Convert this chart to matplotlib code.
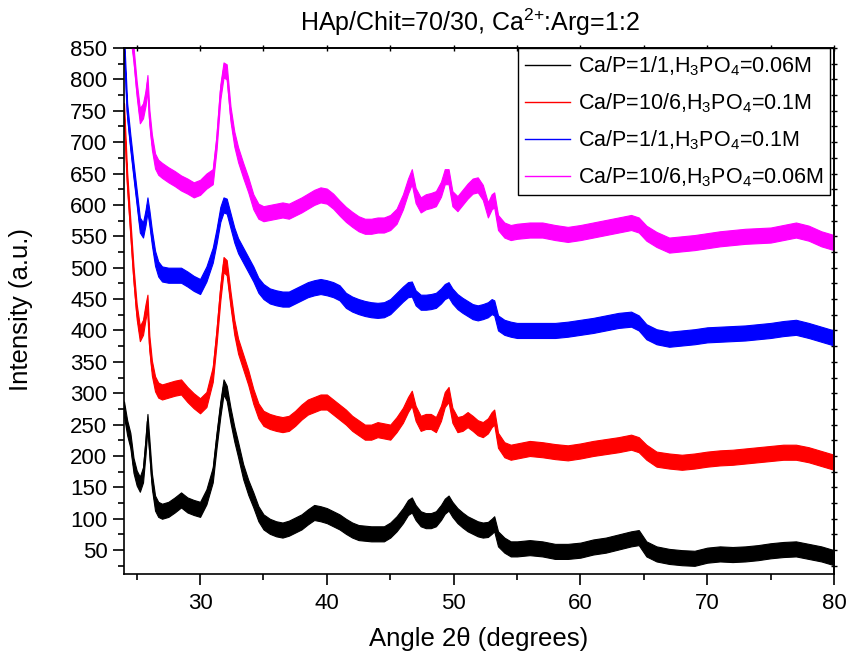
import numpy as np
import matplotlib
matplotlib.use('Agg')
import matplotlib.pyplot as plt
from matplotlib.ticker import MultipleLocator, NullFormatter

plt.rcParams['font.family'] = ['Liberation Sans', 'DejaVu Sans']
plt.rcParams['mathtext.fontset'] = 'custom'
plt.rcParams['mathtext.rm'] = 'Liberation Sans'
plt.rcParams['mathtext.default'] = 'regular'

# Угол 2θ, градусы
angle = [24.0, 24.25, 24.5, 24.75, 25.0, 25.25, 25.5, 25.7, 25.85, 26.0,
         26.2, 26.45, 26.7, 27.0, 27.5, 28.0, 28.5, 29.0, 29.5, 30.0,
         30.5, 31.0, 31.3, 31.6, 31.85, 32.1, 32.4, 32.7, 33.0, 33.4,
         33.8, 34.2, 34.6, 35.0, 35.5, 36.0, 36.5, 37.0, 37.5, 38.0,
         38.5, 39.0, 39.5, 40.0, 40.5, 41.0, 41.5, 42.0, 42.5, 43.0,
         43.5, 44.0, 44.5, 45.0, 45.5, 46.0, 46.4, 46.7, 47.0, 47.4,
         47.8, 48.2, 48.6, 49.0, 49.3, 49.6, 49.9, 50.3, 50.7, 51.1,
         51.5, 51.9, 52.3, 52.7, 53.0, 53.2, 53.5, 54.0, 54.5, 55.0,
         56.0, 57.0, 58.0, 59.0, 60.0, 61.0, 62.0, 63.0, 64.0, 64.6,
         65.2, 66.0, 67.0, 68.0, 69.0, 70.0, 71.0, 72.0, 73.0, 74.0,
         75.0, 76.0, 77.0, 78.0, 79.0, 80.0]

# Ca/P=1/1, H3PO4=0.06M
i_black = [275, 245, 225, 185, 165, 155, 170, 215, 255, 215,
           160, 125, 115, 112, 115, 122, 130, 122, 118, 115,
           135, 170, 225, 275, 310, 300, 265, 235, 210, 175,
           150, 130, 108, 95, 88, 84, 82, 85, 90, 95,
           103, 110, 108, 105, 100, 95, 88, 82, 78, 77,
           76, 76, 76, 82, 92, 105, 118, 122, 110, 100,
           97, 97, 100, 110, 120, 125, 115, 105, 98, 92,
           88, 84, 82, 83, 88, 92, 68, 58, 52, 52,
           54, 52, 48, 48, 50, 55, 58, 63, 68, 70,
           52, 44, 40, 38, 37, 42, 44, 43, 44, 46,
           49, 51, 52, 48, 44, 38]

# Ca/P=10/6, H3PO4=0.1M
i_red = [750, 640, 565, 490, 430, 395, 405, 430, 445, 380,
         340, 315, 305, 302, 305, 308, 310, 298, 288, 280,
         290, 330, 390, 460, 505, 500, 450, 405, 375, 350,
         325, 295, 272, 260, 255, 252, 250, 252, 260, 270,
         278, 282, 286, 286, 278, 270, 262, 252, 245, 238,
         238, 242, 240, 238, 250, 265, 282, 292, 268, 252,
         255, 255, 250, 268, 290, 298, 265, 250, 252, 258,
         252, 245, 242, 248, 258, 262, 225, 210, 206, 208,
         212, 210, 207, 205, 208, 212, 215, 218, 222, 218,
         206, 195, 192, 190, 192, 195, 197, 198, 200, 202,
         204, 206, 206, 202, 196, 190]

# Ca/P=1/1, H3PO4=0.1M
i_blue = [860, 750, 700, 655, 612, 568, 560, 580, 600, 580,
          548, 515, 498, 490, 488, 488, 488, 482, 475, 470,
          490, 520, 550, 585, 600, 598, 575, 552, 535, 520,
          505, 490, 472, 462, 455, 452, 450, 450, 455, 460,
          465, 468, 470, 468, 465, 460, 448, 442, 438, 435,
          433, 432, 433, 438, 448, 458, 465, 466, 452, 445,
          445, 446, 448, 455, 462, 465, 455, 446, 440, 435,
          430, 428, 430, 433, 438, 436, 412, 405, 402, 400,
          400, 400, 400, 402, 405, 408, 412, 416, 418, 412,
          398, 390, 386, 388, 390, 393, 394, 395, 396, 398,
          400, 403, 405, 400, 394, 388]

# Ca/P=10/6, H3PO4=0.06M
i_magenta = [np.nan, np.nan, 880, 840, 785, 742, 750, 770, 795, 740,
             700, 670, 660, 655, 648, 642, 635, 630, 624, 628,
             638, 645, 700, 780, 815, 812, 745, 705, 680, 655,
             632, 605, 590, 586, 588, 590, 592, 590, 595, 600,
             606, 612, 616, 614, 606, 595, 585, 577, 570, 566,
             566, 568, 568, 572, 582, 605, 630, 645, 615, 600,
             605, 607, 610, 625, 645, 645, 610, 602, 612, 622,
             630, 632, 620, 592, 605, 608, 572, 560, 556, 558,
             560, 560, 556, 553, 556, 560, 564, 568, 572, 568,
             555, 545, 536, 538, 540, 543, 546, 548, 550, 551,
             552, 556, 560, 555, 546, 540]

# Разброс шума вокруг средней линии
noise = [12, 12, 12, 12]

labels = [r'Ca/P=1/1,H$_3$PO$_4$=0.06M',
          r'Ca/P=10/6,H$_3$PO$_4$=0.1M',
          r'Ca/P=1/1,H$_3$PO$_4$=0.1M',
          r'Ca/P=10/6,H$_3$PO$_4$=0.06M']
colors = ['#000000', '#ff0000', '#0000ff', '#ff00ff']
series = [i_black, i_red, i_blue, i_magenta]

fig = plt.figure(figsize=(8.51, 6.58), dpi=100)
ax = fig.add_axes([124 / 851, 1 - 574 / 658, 710 / 851, 526 / 658])

x = np.array(angle)
for y, n, c, lab in zip(series, noise, colors, labels):
    y = np.array(y, dtype=float)
    ax.fill_between(x, y - n, y + n, color=c, linewidth=0.8)
    ax.plot(x, y, color=c, linewidth=1.0, label=lab)

ax.set_xlim(24, 80)
ax.set_ylim(12, 850)

ax.xaxis.set_major_locator(MultipleLocator(10))
ax.xaxis.set_minor_locator(MultipleLocator(5))
ax.yaxis.set_major_locator(MultipleLocator(50))
ax.yaxis.set_minor_locator(MultipleLocator(25))
ax.tick_params(which='major', direction='out', length=8, width=1.2,
               labelsize=16, pad=4)
ax.tick_params(axis='x', which='major', pad=6)
ax.tick_params(which='minor', direction='out', length=4.5, width=1.2)
for s in ax.spines.values():
    s.set_linewidth(1.2)

# верхняя и правая оси — короткие риски без подписей
top = ax.secondary_xaxis('top')
top.xaxis.set_major_locator(MultipleLocator(10))
top.xaxis.set_minor_locator(MultipleLocator(5))
top.xaxis.set_major_formatter(NullFormatter())
top.tick_params(which='both', direction='inout', length=4, width=1.0)
right = ax.secondary_yaxis('right')
right.yaxis.set_major_locator(MultipleLocator(25))
right.yaxis.set_major_formatter(NullFormatter())
right.tick_params(which='both', direction='inout', length=4, width=1.0)
for sax in (top, right):
    for s in sax.spines.values():
        s.set_linewidth(1.2)

ax.set_xlabel('Angle 2θ (degrees)', fontsize=18.5, labelpad=9)
ax.set_ylabel('Intensity (a.u.)', fontsize=18.5)
ax.yaxis.set_label_coords(-0.128, 0.502)
fig.text(470 / 851, 1 - 22 / 658, r'HAp/Chit=70/30, Ca$^{2{+}}$:Arg=1:2',
         fontsize=18, ha='center', va='center')

leg = ax.legend(loc='upper right', bbox_to_anchor=(0.994, 1.0),
                borderaxespad=0, fontsize=15.5, frameon=True, fancybox=False,
                edgecolor='black', framealpha=1, handlelength=2.1,
                handletextpad=0.35, labelspacing=0.62, borderpad=0.3)
leg.get_frame().set_linewidth(1.0)

fig.savefig('out.png', dpi=100)
